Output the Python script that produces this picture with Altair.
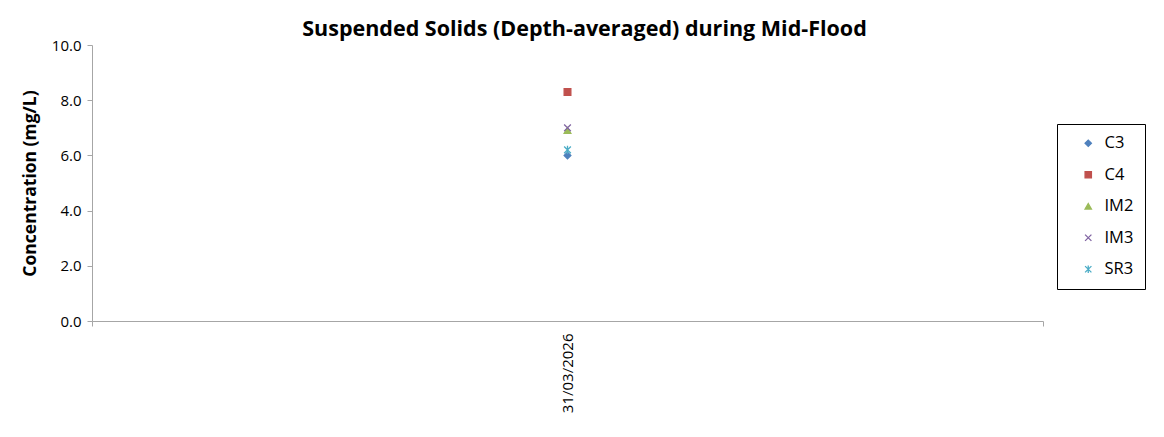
import altair as alt
import pandas as pd

dates = ["31/03/2026"]
stations = ["C3", "C4", "IM2", "IM3", "SR3"]
values = [6.0, 8.3, 6.9, 7.0, 6.2]

colors = ["#4F81BD", "#C0504D", "#9BBB59", "#8064A2", "#4BACC6"]
fills = ["#4F81BD", "#C0504D", "#9BBB59", "transparent", "transparent"]
shapes = [
    "diamond",
    "square",
    "triangle-up",
    "M-1,-1L1,1M-1,1L1,-1",
    "M-1,-1L1,1M-1,1L1,-1M0,-1.2L0,1.2",
]

df = pd.DataFrame({"date": dates * len(stations), "station": stations, "value": values})

FONT = "Open Sans"

points = alt.Chart(df).mark_point(filled=False, size=45, strokeWidth=1.3, opacity=1).encode(
    x=alt.X("date:N", title=None,
            scale=alt.Scale(paddingInner=0, paddingOuter=0),
            axis=alt.Axis(labelAngle=-90, labelFontSize=15, labelFont=FONT, labelColor="#000000",
                          domainColor="#A6A6A6", tickColor="#A6A6A6", tickBand="extent",
                          tickSize=5, labelPadding=7, labelBaseline="middle")),
    y=alt.Y("value:Q", title="Concentration (mg/L)",
            scale=alt.Scale(domain=[0, 10], nice=False),
            axis=alt.Axis(values=[0, 2, 4, 6, 8, 10], format=".1f", grid=False,
                          labelFontSize=15, labelFont=FONT, labelColor="#000000",
                          domainColor="#A6A6A6", tickColor="#A6A6A6", tickSize=5, labelPadding=6,
                          titleFontSize=17.5, titleFont=FONT, titleFontWeight="bold",
                          titleColor="#000000", titlePadding=12)),
    stroke=alt.Stroke("station:N", title=None,
                      scale=alt.Scale(domain=stations, range=colors)),
    fill=alt.Fill("station:N", title=None,
                  scale=alt.Scale(domain=stations, range=fills)),
    shape=alt.Shape("station:N", title=None,
                    scale=alt.Scale(domain=stations, range=shapes)),
)

chart = points.properties(
    width=951,
    height=276,
    background="white",
    autosize=alt.AutoSizeParams(type="none"),
    title=alt.TitleParams("Suspended Solids (Depth-averaged) during Mid-Flood",
                          fontSize=21.5, font=FONT, fontWeight="bold", color="#000000",
                          anchor="middle", offset=-2, dx=17),
    padding={"left": 84, "top": 37, "right": 113, "bottom": 108},
).configure_view(stroke=None).configure_legend(
    orient="none", legendX=965, legendY=79,
    strokeColor="#000000", padding=11, rowPadding=14.5,
    labelFontSize=16.5, labelFont=FONT, labelColor="#000000",
    symbolSize=40, symbolStrokeWidth=1.3, labelOffset=8, symbolOffset=12,
    labelLimit=200,
)

chart.save("out.html", embed_options={"renderer": "svg", "actions": False})
